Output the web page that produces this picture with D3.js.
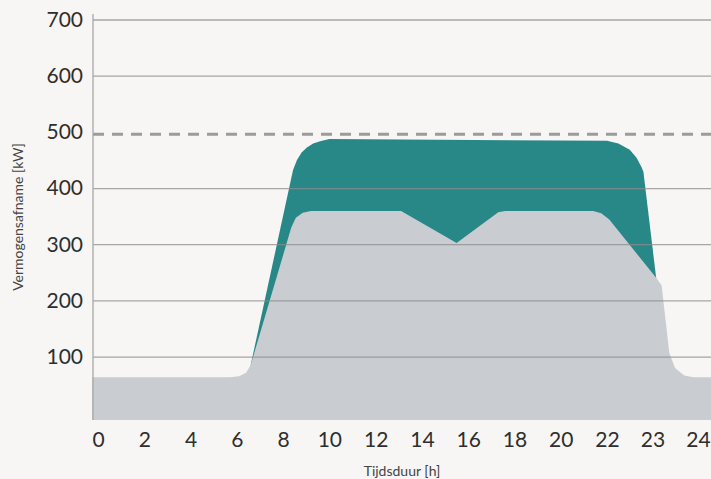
<!DOCTYPE html>
<html lang="nl">
<head>
<meta charset="UTF-8">
<title>Vermogensafname</title>
<script src="https://d3js.org/d3.v7.min.js"></script>
<style>
  body { margin: 0; background: #f7f6f4; }
  svg { display: block; }
  .tick text { font-family: Lato, sans-serif; fill: #2e2e2e; }
  .label { font-family: Lato, sans-serif; fill: #444; }
</style>
</head>
<body>
<script>
// x-axis tick labels (hours) and y-axis ticks (kW)
const xTicks = [0, 2, 4, 6, 8, 10, 12, 14, 16, 18, 20, 22, 23, 24];
const yTicks = [100, 200, 300, 400, 500, 600, 700];
const limitKW = 500;

// base load (grey), [hour, kW]
const baseLoad = [
  [-0.25, 64], [5.7, 64], [6.1, 66], [6.4, 72], [6.6, 86],
  [8.35, 330], [8.55, 348], [8.85, 357], [9.2, 360],
  [13.1, 360], [15.5, 303], [17.3, 358], [17.6, 360],
  [21.4, 360], [21.75, 356], [22.05, 345], [23.08, 241],
  [23.2, 228], [23.37, 107], [23.5, 80], [23.7, 67], [23.9, 64], [24.35, 64]
];

// total load incl. charging (teal), [hour, kW]
const totalLoad = [
  [6.6, 86], [8.43, 433], [8.6, 451], [8.8, 464], [9.03, 473], [9.3, 480],
  [9.6, 484], [10.0, 488], [22.0, 485], [22.25, 480], [22.5, 469],
  [22.65, 455], [22.76, 438], [22.8, 430], [23.08, 241]
];

const width = 711, height = 479;
const margin = { top: 14, right: 0, bottom: 59, left: 93 };
const plotBottom = height - margin.bottom;

const svg = d3.select("body").append("svg")
  .attr("width", width)
  .attr("height", height);

// hours are laid out unevenly: 0..22 in steps of two, then 23 and 24
const x = d3.scaleLinear()
  .domain([0, 22, 23, 24])
  .range([98, 607, 652.5, 698]);

const y = d3.scaleLinear()
  .domain([-12, 700])
  .range([plotBottom, 20]);

const area = d3.area()
  .x(d => x(d[0]))
  .y0(plotBottom)
  .y1(d => y(d[1]));

svg.append("path")
  .datum(totalLoad)
  .attr("fill", "#288887")
  .attr("d", area);

svg.append("path")
  .datum(baseLoad)
  .attr("fill", "#c9cdd1")
  .attr("d", area);

// grid lines
svg.append("g")
  .selectAll("line")
  .data(yTicks.filter(v => v !== limitKW))
  .join("line")
  .attr("x1", margin.left)
  .attr("x2", width)
  .attr("y1", d => y(d))
  .attr("y2", d => y(d))
  .attr("stroke", "#8c8c8c")
  .attr("stroke-opacity", 0.75)
  .attr("stroke-width", 1.3);

// limit line
svg.append("line")
  .attr("x1", margin.left)
  .attr("x2", width)
  .attr("y1", y(limitKW) + 2)
  .attr("y2", y(limitKW) + 2)
  .attr("stroke", "#9b9b9b")
  .attr("stroke-width", 3)
  .attr("stroke-dasharray", "11,8");

// y axis line
svg.append("line")
  .attr("x1", margin.left).attr("x2", margin.left)
  .attr("y1", margin.top).attr("y2", plotBottom)
  .attr("stroke", "#a8a8a8")
  .attr("stroke-width", 1.3);

// y axis labels
const yAxis = svg.append("g")
  .attr("transform", `translate(${margin.left - 10},0)`)
  .call(d3.axisLeft(y).tickValues(yTicks).tickSize(0).tickPadding(0));
yAxis.select(".domain").remove();
yAxis.selectAll(".tick text").attr("font-size", 21).attr("dy", "0.3em");

// x axis labels
const xAxis = svg.append("g")
  .attr("transform", `translate(0,${plotBottom + 9})`)
  .call(d3.axisBottom(x).tickValues(xTicks).tickFormat(d3.format("d")).tickSize(0).tickPadding(0));
xAxis.select(".domain").remove();
xAxis.selectAll(".tick text").attr("font-size", 21).attr("dy", "0.85em");

svg.append("text")
  .attr("class", "label")
  .attr("text-anchor", "middle")
  .attr("font-size", 14)
  .attr("x", 402)
  .attr("y", 476)
  .text("Tijdsduur [h]");

svg.append("text")
  .attr("class", "label")
  .attr("text-anchor", "middle")
  .attr("font-size", 14)
  .attr("transform", `translate(23,217) rotate(-90)`)
  .text("Vermogensafname [kW]");
</script>
</body>
</html>
